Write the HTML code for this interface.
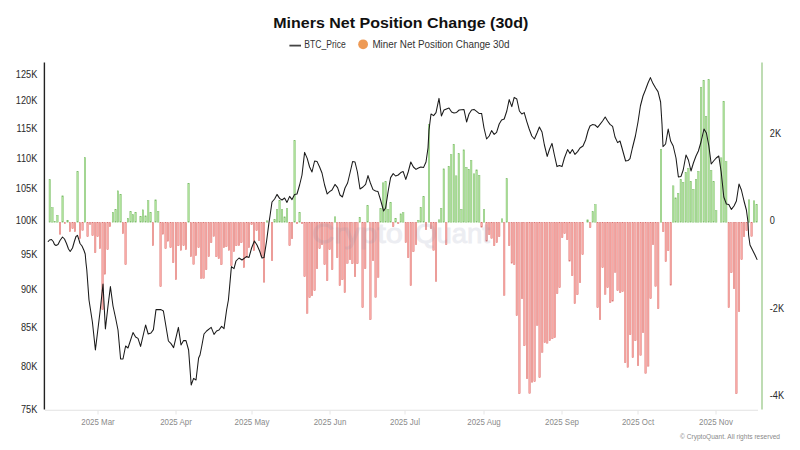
<!DOCTYPE html>
<html><head><meta charset="utf-8"><title>Miners Net Position Change (30d)</title>
<style>
html,body{margin:0;padding:0;background:#fff;}
body{width:800px;height:450px;overflow:hidden;font-family:"Liberation Sans",sans-serif;}
svg{display:block;}
text{font-family:"Liberation Sans",sans-serif;}
.ttl{font-size:14.7px;font-weight:bold;fill:#111;}
.lg{font-size:10px;fill:#333;}
.ax{font-size:10px;fill:#2a2a2a;}
.mo{font-size:8.4px;fill:#8a8a8a;}
.cp{font-size:7.5px;fill:#8a8a8a;}
.n{fill:#fbaca8;stroke:#d97471;stroke-width:0.45;}
.p{fill:#b1e49c;stroke:#7fbd6e;stroke-width:0.45;}
.wm{font-size:27px;fill:#7d86a6;stroke:#7d86a6;stroke-width:0.9;opacity:0.14;}
</style></head><body>
<svg width="800" height="450" viewBox="0 0 800 450">
<rect width="800" height="450" fill="#fff"/>
<text class="ttl" x="400.8" y="27.9" text-anchor="middle" textLength="255" lengthAdjust="spacingAndGlyphs">Miners Net Position Change (30d)</text>
<line x1="289.4" y1="45.6" x2="301" y2="45.6" stroke="#444" stroke-width="1.8"/>
<text class="lg" x="304.3" y="48.4" textLength="41.4" lengthAdjust="spacingAndGlyphs">BTC_Price</text>
<circle cx="363.1" cy="44.3" r="4.9" fill="#ee9a55"/>
<text class="lg" x="372.4" y="48.4" textLength="137.2" lengthAdjust="spacingAndGlyphs">Miner Net Position Change 30d</text>
<line x1="45" y1="410.2" x2="758" y2="410.2" stroke="#e2e2e2" stroke-width="1.1"/>
<g shape-rendering="auto">
<rect class="n" x="59.23" y="222.62" width="1.55" height="11.55"/><rect class="n" x="64.22" y="222.62" width="1.55" height="1.15"/><rect class="n" x="69.22" y="222.62" width="1.55" height="9.15"/><rect class="n" x="71.82" y="222.62" width="1.55" height="6.15"/><rect class="n" x="74.22" y="222.62" width="1.55" height="9.15"/><rect class="n" x="79.22" y="222.62" width="1.55" height="16.15"/><rect class="n" x="81.82" y="222.62" width="1.55" height="7.75"/><rect class="n" x="86.82" y="222.62" width="1.55" height="14.15"/><rect class="n" x="89.32" y="222.62" width="1.55" height="1.75"/><rect class="n" x="91.82" y="222.62" width="1.55" height="13.15"/><rect class="n" x="94.42" y="222.62" width="1.55" height="30.15"/><rect class="n" x="96.82" y="222.62" width="1.55" height="14.15"/><rect class="n" x="99.22" y="222.62" width="1.55" height="26.15"/><rect class="n" x="101.82" y="222.62" width="1.55" height="87.15"/><rect class="n" x="104.22" y="222.62" width="1.55" height="51.55"/><rect class="n" x="106.82" y="222.62" width="1.55" height="27.15"/><rect class="n" x="109.22" y="222.62" width="1.55" height="4.15"/><rect class="n" x="122.22" y="222.62" width="1.55" height="11.15"/><rect class="n" x="124.82" y="222.62" width="1.55" height="42.15"/><rect class="n" x="152.22" y="222.62" width="1.55" height="23.15"/><rect class="n" x="159.82" y="222.62" width="1.55" height="64.15"/><rect class="n" x="162.22" y="222.62" width="1.55" height="11.55"/><rect class="n" x="164.82" y="222.62" width="1.55" height="26.15"/><rect class="n" x="167.22" y="222.62" width="1.55" height="18.55"/><rect class="n" x="169.82" y="222.62" width="1.55" height="25.15"/><rect class="n" x="172.42" y="222.62" width="1.55" height="40.15"/><rect class="n" x="175.22" y="222.62" width="1.55" height="57.15"/><rect class="n" x="177.62" y="222.62" width="1.55" height="23.15"/><rect class="n" x="180.22" y="222.62" width="1.55" height="27.75"/><rect class="n" x="182.82" y="222.62" width="1.55" height="23.15"/><rect class="n" x="185.22" y="222.62" width="1.55" height="27.15"/><rect class="n" x="190.22" y="222.62" width="1.55" height="34.15"/><rect class="n" x="192.82" y="222.62" width="1.55" height="41.75"/><rect class="n" x="195.22" y="222.62" width="1.55" height="33.15"/><rect class="n" x="197.82" y="222.62" width="1.55" height="25.15"/><rect class="n" x="200.42" y="222.62" width="1.55" height="55.75"/><rect class="n" x="202.82" y="222.62" width="1.55" height="55.75"/><rect class="n" x="205.42" y="222.62" width="1.55" height="47.15"/><rect class="n" x="208.03" y="222.62" width="1.55" height="34.15"/><rect class="n" x="210.42" y="222.62" width="1.55" height="20.15"/><rect class="n" x="213.03" y="222.62" width="1.55" height="13.75"/><rect class="n" x="215.62" y="222.62" width="1.55" height="34.15"/><rect class="n" x="218.03" y="222.62" width="1.55" height="36.15"/><rect class="n" x="220.62" y="222.62" width="1.55" height="42.15"/><rect class="n" x="223.22" y="222.62" width="1.55" height="25.15"/><rect class="n" x="225.62" y="222.62" width="1.55" height="24.15"/><rect class="n" x="228.22" y="222.62" width="1.55" height="27.75"/><rect class="n" x="230.62" y="222.62" width="1.55" height="43.15"/><rect class="n" x="233.22" y="222.62" width="1.55" height="29.15"/><rect class="n" x="235.62" y="222.62" width="1.55" height="23.15"/><rect class="n" x="238.22" y="222.62" width="1.55" height="23.15"/><rect class="n" x="240.62" y="222.62" width="1.55" height="20.15"/><rect class="n" x="243.22" y="222.62" width="1.55" height="45.15"/><rect class="n" x="245.82" y="222.62" width="1.55" height="35.15"/><rect class="n" x="248.22" y="222.62" width="1.55" height="25.15"/><rect class="n" x="250.82" y="222.62" width="1.55" height="2.15"/><rect class="n" x="253.22" y="222.62" width="1.55" height="28.15"/><rect class="n" x="255.83" y="222.62" width="1.55" height="8.15"/><rect class="n" x="258.23" y="222.62" width="1.55" height="18.15"/><rect class="n" x="260.83" y="222.62" width="1.55" height="34.15"/><rect class="n" x="263.23" y="222.62" width="1.55" height="59.55"/><rect class="n" x="271.23" y="222.62" width="1.55" height="38.15"/><rect class="n" x="288.83" y="222.62" width="1.55" height="23.15"/><rect class="n" x="291.23" y="222.62" width="1.55" height="16.15"/><rect class="n" x="296.23" y="222.62" width="1.55" height="1.15"/><rect class="n" x="301.23" y="222.62" width="1.55" height="1.15"/><rect class="n" x="303.83" y="222.62" width="1.55" height="54.15"/><rect class="n" x="306.43" y="222.62" width="1.55" height="90.75"/><rect class="n" x="308.83" y="222.62" width="1.55" height="75.15"/><rect class="n" x="311.23" y="222.62" width="1.55" height="73.15"/><rect class="n" x="313.83" y="222.62" width="1.55" height="68.15"/><rect class="n" x="316.23" y="222.62" width="1.55" height="46.15"/><rect class="n" x="318.83" y="222.62" width="1.55" height="26.15"/><rect class="n" x="321.23" y="222.62" width="1.55" height="22.15"/><rect class="n" x="323.83" y="222.62" width="1.55" height="42.15"/><rect class="n" x="326.43" y="222.62" width="1.55" height="58.15"/><rect class="n" x="328.83" y="222.62" width="1.55" height="27.15"/><rect class="n" x="331.43" y="222.62" width="1.55" height="47.15"/><rect class="n" x="336.43" y="222.62" width="1.55" height="35.15"/><rect class="n" x="339.03" y="222.62" width="1.55" height="63.15"/><rect class="n" x="341.62" y="222.62" width="1.55" height="57.15"/><rect class="n" x="344.03" y="222.62" width="1.55" height="70.15"/><rect class="n" x="346.62" y="222.62" width="1.55" height="40.75"/><rect class="n" x="349.23" y="222.62" width="1.55" height="37.15"/><rect class="n" x="351.62" y="222.62" width="1.55" height="41.15"/><rect class="n" x="354.23" y="222.62" width="1.55" height="54.15"/><rect class="n" x="356.62" y="222.62" width="1.55" height="41.15"/><rect class="n" x="361.83" y="222.62" width="1.55" height="85.15"/><rect class="n" x="364.43" y="222.62" width="1.55" height="46.15"/><rect class="n" x="369.62" y="222.62" width="1.55" height="97.15"/><rect class="n" x="372.23" y="222.62" width="1.55" height="38.15"/><rect class="n" x="374.83" y="222.62" width="1.55" height="74.75"/><rect class="n" x="377.43" y="222.62" width="1.55" height="54.75"/><rect class="n" x="392.43" y="222.62" width="1.55" height="4.15"/><rect class="n" x="397.43" y="222.62" width="1.55" height="1.15"/><rect class="n" x="405.03" y="222.62" width="1.55" height="20.15"/><rect class="n" x="407.43" y="222.62" width="1.55" height="35.15"/><rect class="n" x="410.03" y="222.62" width="1.55" height="63.15"/><rect class="n" x="412.62" y="222.62" width="1.55" height="29.15"/><rect class="n" x="415.23" y="222.62" width="1.55" height="22.15"/><rect class="n" x="425.23" y="222.62" width="1.55" height="7.15"/><rect class="n" x="430.23" y="222.62" width="1.55" height="6.15"/><rect class="n" x="432.83" y="222.62" width="1.55" height="27.75"/><rect class="n" x="435.23" y="222.62" width="1.55" height="58.75"/><rect class="n" x="445.43" y="222.62" width="1.55" height="22.15"/><rect class="n" x="480.83" y="222.62" width="1.55" height="4.55"/><rect class="n" x="485.83" y="222.62" width="1.55" height="18.55"/><rect class="n" x="488.43" y="222.62" width="1.55" height="12.15"/><rect class="n" x="490.83" y="222.62" width="1.55" height="15.75"/><rect class="n" x="493.43" y="222.62" width="1.55" height="23.15"/><rect class="n" x="496.03" y="222.62" width="1.55" height="20.15"/><rect class="n" x="498.43" y="222.62" width="1.55" height="14.15"/><rect class="n" x="503.43" y="222.62" width="1.55" height="72.75"/><rect class="n" x="508.43" y="222.62" width="1.55" height="23.15"/><rect class="n" x="511.03" y="222.62" width="1.55" height="40.55"/><rect class="n" x="513.43" y="222.62" width="1.55" height="42.15"/><rect class="n" x="516.02" y="222.62" width="1.55" height="93.15"/><rect class="n" x="518.62" y="222.62" width="1.55" height="171.15"/><rect class="n" x="521.23" y="222.62" width="1.55" height="76.15"/><rect class="n" x="523.62" y="222.62" width="1.55" height="123.15"/><rect class="n" x="526.23" y="222.62" width="1.55" height="156.15"/><rect class="n" x="528.83" y="222.62" width="1.55" height="170.75"/><rect class="n" x="531.23" y="222.62" width="1.55" height="159.55"/><rect class="n" x="533.83" y="222.62" width="1.55" height="159.15"/><rect class="n" x="536.43" y="222.62" width="1.55" height="102.75"/><rect class="n" x="538.83" y="222.62" width="1.55" height="155.15"/><rect class="n" x="541.43" y="222.62" width="1.55" height="129.75"/><rect class="n" x="544.02" y="222.62" width="1.55" height="120.15"/><rect class="n" x="546.43" y="222.62" width="1.55" height="120.55"/><rect class="n" x="549.02" y="222.62" width="1.55" height="118.15"/><rect class="n" x="551.62" y="222.62" width="1.55" height="116.15"/><rect class="n" x="554.02" y="222.62" width="1.55" height="115.15"/><rect class="n" x="556.43" y="222.62" width="1.55" height="71.15"/><rect class="n" x="558.83" y="222.62" width="1.55" height="65.15"/><rect class="n" x="561.43" y="222.62" width="1.55" height="15.15"/><rect class="n" x="563.83" y="222.62" width="1.55" height="11.15"/><rect class="n" x="566.43" y="222.62" width="1.55" height="17.15"/><rect class="n" x="568.83" y="222.62" width="1.55" height="38.55"/><rect class="n" x="571.43" y="222.62" width="1.55" height="53.15"/><rect class="n" x="574.02" y="222.62" width="1.55" height="81.15"/><rect class="n" x="576.62" y="222.62" width="1.55" height="72.15"/><rect class="n" x="579.23" y="222.62" width="1.55" height="60.15"/><rect class="n" x="581.83" y="222.62" width="1.55" height="32.15"/><rect class="n" x="589.43" y="222.62" width="1.55" height="5.15"/><rect class="n" x="596.83" y="222.62" width="1.55" height="85.15"/><rect class="n" x="599.23" y="222.62" width="1.55" height="97.15"/><rect class="n" x="601.83" y="222.62" width="1.55" height="45.15"/><rect class="n" x="604.43" y="222.62" width="1.55" height="71.75"/><rect class="n" x="606.83" y="222.62" width="1.55" height="65.15"/><rect class="n" x="609.43" y="222.62" width="1.55" height="80.15"/><rect class="n" x="611.83" y="222.62" width="1.55" height="78.55"/><rect class="n" x="614.43" y="222.62" width="1.55" height="49.75"/><rect class="n" x="616.83" y="222.62" width="1.55" height="68.15"/><rect class="n" x="619.43" y="222.62" width="1.55" height="70.15"/><rect class="n" x="621.83" y="222.62" width="1.55" height="69.15"/><rect class="n" x="624.43" y="222.62" width="1.55" height="140.15"/><rect class="n" x="627.02" y="222.62" width="1.55" height="144.75"/><rect class="n" x="629.43" y="222.62" width="1.55" height="112.15"/><rect class="n" x="632.02" y="222.62" width="1.55" height="135.15"/><rect class="n" x="634.62" y="222.62" width="1.55" height="118.15"/><rect class="n" x="637.23" y="222.62" width="1.55" height="143.15"/><rect class="n" x="639.83" y="222.62" width="1.55" height="132.75"/><rect class="n" x="642.23" y="222.62" width="1.55" height="110.15"/><rect class="n" x="644.83" y="222.62" width="1.55" height="150.75"/><rect class="n" x="647.43" y="222.62" width="1.55" height="143.55"/><rect class="n" x="649.83" y="222.62" width="1.55" height="76.15"/><rect class="n" x="652.23" y="222.62" width="1.55" height="22.15"/><rect class="n" x="654.83" y="222.62" width="1.55" height="63.75"/><rect class="n" x="657.43" y="222.62" width="1.55" height="86.15"/><rect class="n" x="662.43" y="222.62" width="1.55" height="9.15"/><rect class="n" x="665.02" y="222.62" width="1.55" height="39.15"/><rect class="n" x="667.43" y="222.62" width="1.55" height="28.15"/><rect class="n" x="670.02" y="222.62" width="1.55" height="62.55"/><rect class="n" x="728.02" y="222.62" width="1.55" height="85.15"/><rect class="n" x="730.62" y="222.62" width="1.55" height="50.15"/><rect class="n" x="733.23" y="222.62" width="1.55" height="66.15"/><rect class="n" x="735.62" y="222.62" width="1.55" height="171.15"/><rect class="n" x="738.23" y="222.62" width="1.55" height="89.15"/><rect class="n" x="740.83" y="222.62" width="1.55" height="37.15"/><rect class="n" x="743.23" y="222.62" width="1.55" height="14.15"/><rect class="n" x="745.83" y="222.62" width="1.55" height="8.15"/><rect class="n" x="750.83" y="222.62" width="1.55" height="13.75"/><rect class="p" x="49.02" y="179.62" width="1.55" height="42.55"/><rect class="p" x="51.62" y="207.62" width="1.55" height="14.55"/><rect class="p" x="54.02" y="221.22" width="1.55" height="0.95"/><rect class="p" x="56.62" y="215.22" width="1.55" height="6.95"/><rect class="p" x="61.83" y="195.82" width="1.55" height="26.35"/><rect class="p" x="66.82" y="220.22" width="1.55" height="1.95"/><rect class="p" x="76.82" y="171.62" width="1.55" height="50.55"/><rect class="p" x="84.22" y="157.62" width="1.55" height="64.55"/><rect class="p" x="112.22" y="212.22" width="1.55" height="9.95"/><rect class="p" x="114.82" y="209.62" width="1.55" height="12.55"/><rect class="p" x="117.22" y="190.82" width="1.55" height="31.35"/><rect class="p" x="119.82" y="194.22" width="1.55" height="27.95"/><rect class="p" x="127.22" y="218.22" width="1.55" height="3.95"/><rect class="p" x="129.82" y="211.62" width="1.55" height="10.55"/><rect class="p" x="132.22" y="214.62" width="1.55" height="7.55"/><rect class="p" x="134.82" y="212.22" width="1.55" height="9.95"/><rect class="p" x="139.82" y="216.22" width="1.55" height="5.95"/><rect class="p" x="142.22" y="209.82" width="1.55" height="12.35"/><rect class="p" x="144.82" y="215.82" width="1.55" height="6.35"/><rect class="p" x="147.42" y="200.62" width="1.55" height="21.55"/><rect class="p" x="149.82" y="212.22" width="1.55" height="9.95"/><rect class="p" x="154.82" y="199.82" width="1.55" height="22.35"/><rect class="p" x="157.42" y="211.22" width="1.55" height="10.95"/><rect class="p" x="187.82" y="183.22" width="1.55" height="38.95"/><rect class="p" x="266.23" y="220.82" width="1.55" height="1.35"/><rect class="p" x="273.83" y="219.62" width="1.55" height="2.55"/><rect class="p" x="276.23" y="209.22" width="1.55" height="12.95"/><rect class="p" x="278.83" y="200.22" width="1.55" height="21.95"/><rect class="p" x="281.23" y="209.62" width="1.55" height="12.55"/><rect class="p" x="283.83" y="216.82" width="1.55" height="5.35"/><rect class="p" x="286.23" y="208.62" width="1.55" height="13.55"/><rect class="p" x="293.83" y="140.62" width="1.55" height="81.55"/><rect class="p" x="298.83" y="212.22" width="1.55" height="9.95"/><rect class="p" x="334.23" y="216.82" width="1.55" height="5.35"/><rect class="p" x="359.03" y="217.22" width="1.55" height="4.95"/><rect class="p" x="366.83" y="205.62" width="1.55" height="16.55"/><rect class="p" x="379.83" y="208.22" width="1.55" height="13.95"/><rect class="p" x="382.23" y="182.82" width="1.55" height="39.35"/><rect class="p" x="384.83" y="181.62" width="1.55" height="40.55"/><rect class="p" x="387.43" y="209.22" width="1.55" height="12.95"/><rect class="p" x="389.83" y="202.22" width="1.55" height="19.95"/><rect class="p" x="394.83" y="218.22" width="1.55" height="3.95"/><rect class="p" x="400.03" y="213.82" width="1.55" height="8.35"/><rect class="p" x="402.43" y="212.62" width="1.55" height="9.55"/><rect class="p" x="417.62" y="220.22" width="1.55" height="1.95"/><rect class="p" x="420.03" y="207.22" width="1.55" height="14.95"/><rect class="p" x="422.83" y="196.62" width="1.55" height="25.55"/><rect class="p" x="428.23" y="124.22" width="1.55" height="97.95"/><rect class="p" x="438.23" y="219.82" width="1.55" height="2.35"/><rect class="p" x="440.43" y="208.22" width="1.55" height="13.95"/><rect class="p" x="443.03" y="168.82" width="1.55" height="53.35"/><rect class="p" x="448.03" y="166.22" width="1.55" height="55.95"/><rect class="p" x="450.43" y="154.62" width="1.55" height="67.55"/><rect class="p" x="453.03" y="144.22" width="1.55" height="77.95"/><rect class="p" x="455.43" y="175.82" width="1.55" height="46.35"/><rect class="p" x="458.03" y="153.62" width="1.55" height="68.55"/><rect class="p" x="460.62" y="209.22" width="1.55" height="12.95"/><rect class="p" x="463.03" y="149.82" width="1.55" height="72.35"/><rect class="p" x="465.62" y="167.22" width="1.55" height="54.95"/><rect class="p" x="468.03" y="169.22" width="1.55" height="52.95"/><rect class="p" x="470.43" y="160.22" width="1.55" height="61.95"/><rect class="p" x="473.23" y="173.82" width="1.55" height="48.35"/><rect class="p" x="475.83" y="169.82" width="1.55" height="52.35"/><rect class="p" x="478.43" y="175.22" width="1.55" height="46.95"/><rect class="p" x="483.23" y="209.62" width="1.55" height="12.55"/><rect class="p" x="501.23" y="218.82" width="1.55" height="3.35"/><rect class="p" x="506.03" y="178.62" width="1.55" height="43.55"/><rect class="p" x="586.83" y="219.82" width="1.55" height="2.35"/><rect class="p" x="592.02" y="211.62" width="1.55" height="10.55"/><rect class="p" x="594.62" y="204.62" width="1.55" height="17.55"/><rect class="p" x="660.23" y="149.22" width="1.55" height="72.95"/><rect class="p" x="672.43" y="185.82" width="1.55" height="36.35"/><rect class="p" x="674.83" y="197.82" width="1.55" height="24.35"/><rect class="p" x="677.43" y="193.22" width="1.55" height="28.95"/><rect class="p" x="680.02" y="179.22" width="1.55" height="42.95"/><rect class="p" x="682.43" y="182.22" width="1.55" height="39.95"/><rect class="p" x="685.02" y="172.22" width="1.55" height="49.95"/><rect class="p" x="687.62" y="168.22" width="1.55" height="53.95"/><rect class="p" x="690.02" y="181.22" width="1.55" height="40.95"/><rect class="p" x="692.62" y="189.22" width="1.55" height="32.95"/><rect class="p" x="695.23" y="179.22" width="1.55" height="42.95"/><rect class="p" x="697.62" y="171.22" width="1.55" height="50.95"/><rect class="p" x="700.23" y="87.22" width="1.55" height="134.95"/><rect class="p" x="702.93" y="80.22" width="1.55" height="141.95"/><rect class="p" x="705.33" y="116.22" width="1.55" height="105.95"/><rect class="p" x="707.93" y="79.62" width="1.55" height="142.55"/><rect class="p" x="710.43" y="170.22" width="1.55" height="51.95"/><rect class="p" x="712.83" y="181.62" width="1.55" height="40.55"/><rect class="p" x="715.43" y="210.62" width="1.55" height="11.55"/><rect class="p" x="720.43" y="157.82" width="1.55" height="64.35"/><rect class="p" x="722.93" y="101.22" width="1.55" height="120.95"/><rect class="p" x="725.43" y="161.62" width="1.55" height="60.55"/><rect class="p" x="748.23" y="199.82" width="1.55" height="22.35"/><rect class="p" x="753.23" y="200.82" width="1.55" height="21.35"/><rect class="p" x="755.83" y="204.22" width="1.55" height="17.95"/>
</g>
<text class="wm" x="312" y="243" textLength="91" lengthAdjust="spacingAndGlyphs">Crypto</text><text class="wm" x="415" y="243" textLength="75" lengthAdjust="spacingAndGlyphs">Quant</text>
<polyline points="48.2,241.5 49.5,240 51.5,239.5 53.2,241.5 54.5,244.5 56,245.5 58,244.5 60,240.5 62.5,237 64.5,239 66.5,243.5 68.5,249 70.2,251.5 72.5,248 74.5,241 76,236.5 77.5,235.3 79,240 80,243.5 82,246 84,250.5 85.2,254 86,263 86.8,270 89,300 92.4,322 95.4,350 100,312 103,284 105.4,329 108,306 110.4,286.6 113,306 115.6,318 118,330 120.6,359 123,359 125.6,346 128,348 133,332.6 135.6,337 138,338.4 140.6,346.4 145.6,325 148.2,334 151,333 153.4,329.6 156,309.6 161,309.6 163.4,311 168.4,341 171,343.6 173.6,347.6 178.4,327.4 181,345 183.6,340.6 186,340.6 188.6,350 191.2,385 193.6,378.4 196,380 198.6,358 200,355 201.6,347 204,334 206.6,331 211.2,327.4 214,334.4 216.6,331 219,330 221.6,326.4 224,328.6 226.6,310 228.4,300 229.6,287 231.4,266.6 234,268.6 236,261 239,258 242,260 246.4,256.6 249,257.4 251.6,248 254.4,241 257,245 259.6,251 262,258 264,257.6 266.6,241 269,222.4 270,216 272,202 274.6,199 277,194.4 279.6,198.4 282,200 284.6,198 287,202.4 289.6,196.4 292,199.6 294.6,194.4 297,194 299.6,185 302,175 304.6,152.4 307.2,158.4 309.6,167 312,172 314.6,161 317,161.4 319.6,167 322,173 324.6,185 327.2,194 329.6,191.6 332,190 335,184.4 337.6,187.6 340,195 342.4,197 345,188 347.6,183 350,173 352.6,161.6 355,162 357.4,172 360,189 363,187 365.6,184.4 368,175.6 370.4,183 373,189.6 375.6,191 378,191.6 380.6,200 383.6,211 385.6,208 388.2,191 390.6,177.6 393.2,173.6 395.6,176 398.2,175 400.8,172.6 403.2,171.6 405.8,179.4 408.2,172 410.8,162 413.4,167 416,169.4 418.4,168 420.8,167 423.6,167.4 426,162 428,148 429,130 431,114 433.6,115.6 436,112.6 439,98.4 441.4,116 444,110 449,108 451.6,112 454,113 456.6,112.4 459.2,110 464,109.6 466.6,122 469,114 471.6,110 474,109.4 476.6,111.4 479,113.4 481.6,113.4 484,128 486.6,139 489.2,136 491.6,130.6 494.2,134.4 496.6,132.4 499.2,124 501.6,120 504.2,119 506.8,111 509.2,99.6 511.8,106.6 514.2,97.4 516.8,99 519.4,111 521.8,114 524.2,112.6 526.8,121.6 529.2,129 531.8,136 534.4,139 537,133 539.4,127 542,132 544.4,145 547.2,156.4 549.6,149 552,143.4 554.4,155 557,166.6 559.4,165.6 562,166.6 564.4,158 567.6,149.6 570,153.6 572.4,149.6 575,154.4 577.6,151.6 580,148 583,146 585.6,140 588,131 590,126 592.4,124.6 595,125 597.6,127.4 600,124.4 602.6,121 605.2,117 607.6,121 610,124.4 612.6,126.4 615,137 617.6,142.6 620,141 622,148 625.6,161 628,160.6 630,158.6 632.4,148 634.4,140 635.4,136 638,122 640.4,106 643,96 645.4,90 648,83 650.4,77.6 653,83.6 655.6,88 658,91.6 660.6,102 662,124 663,146.6 665.6,144 668.2,129 670.6,141 673.2,146 676,158 678.4,177 681,176.4 683.2,170 686,155 688.4,160 691,171 693.4,163 696,156 698.4,151 701,142 704,129 706.4,133 708.8,145.5 711.2,164 713.6,161 716.2,158 718.8,156 721.2,172 723.8,197 726.4,204 728.8,204.4 731.4,209.4 734,206 736.4,201 739,184 741.4,190 744,201 746.4,210 748,222 748.6,235 750,245 753,251 755,255 757,259.4" fill="none" stroke="#1a1a1a" stroke-width="1.05" stroke-linejoin="round" stroke-linecap="round"/>
<line x1="44.4" y1="62.6" x2="44.4" y2="409.4" stroke="#222" stroke-width="1.4"/>
<line x1="762" y1="62.6" x2="762" y2="409.4" stroke="#a8d09a" stroke-width="1.5"/>
<text class="ax" transform="translate(37.3,412.7) scale(0.92,1)" text-anchor="end">75K</text><text class="ax" transform="translate(37.3,370.38) scale(0.92,1)" text-anchor="end">80K</text><text class="ax" transform="translate(37.3,330.62) scale(0.92,1)" text-anchor="end">85K</text><text class="ax" transform="translate(37.3,293.13) scale(0.92,1)" text-anchor="end">90K</text><text class="ax" transform="translate(37.3,257.68) scale(0.92,1)" text-anchor="end">95K</text><text class="ax" transform="translate(37.3,224.04) scale(0.92,1)" text-anchor="end">100K</text><text class="ax" transform="translate(37.3,192.04) scale(0.92,1)" text-anchor="end">105K</text><text class="ax" transform="translate(37.3,161.53) scale(0.92,1)" text-anchor="end">110K</text><text class="ax" transform="translate(37.3,132.38) scale(0.92,1)" text-anchor="end">115K</text><text class="ax" transform="translate(37.3,104.47) scale(0.92,1)" text-anchor="end">120K</text><text class="ax" transform="translate(37.3,77.7) scale(0.92,1)" text-anchor="end">125K</text>
<text class="ax" transform="translate(769.8,137) scale(0.92,1)">2K</text><text class="ax" transform="translate(769.8,224.2) scale(0.92,1)">0</text><text class="ax" transform="translate(769.8,312) scale(0.92,1)">-2K</text><text class="ax" transform="translate(769.8,399) scale(0.92,1)">-4K</text>
<line x1="98" y1="410.2" x2="98" y2="414.5" stroke="#e6e6e6" stroke-width="1"/><text class="mo" transform="translate(98,425.3) scale(0.945,1)" text-anchor="middle">2025 Mar</text><line x1="176" y1="410.2" x2="176" y2="414.5" stroke="#e6e6e6" stroke-width="1"/><text class="mo" transform="translate(176,425.3) scale(0.945,1)" text-anchor="middle">2025 Apr</text><line x1="252" y1="410.2" x2="252" y2="414.5" stroke="#e6e6e6" stroke-width="1"/><text class="mo" transform="translate(252,425.3) scale(0.945,1)" text-anchor="middle">2025 May</text><line x1="330" y1="410.2" x2="330" y2="414.5" stroke="#e6e6e6" stroke-width="1"/><text class="mo" transform="translate(330,425.3) scale(0.945,1)" text-anchor="middle">2025 Jun</text><line x1="405" y1="410.2" x2="405" y2="414.5" stroke="#e6e6e6" stroke-width="1"/><text class="mo" transform="translate(405,425.3) scale(0.945,1)" text-anchor="middle">2025 Jul</text><line x1="484" y1="410.2" x2="484" y2="414.5" stroke="#e6e6e6" stroke-width="1"/><text class="mo" transform="translate(484,425.3) scale(0.945,1)" text-anchor="middle">2025 Aug</text><line x1="562" y1="410.2" x2="562" y2="414.5" stroke="#e6e6e6" stroke-width="1"/><text class="mo" transform="translate(562,425.3) scale(0.945,1)" text-anchor="middle">2025 Sep</text><line x1="638" y1="410.2" x2="638" y2="414.5" stroke="#e6e6e6" stroke-width="1"/><text class="mo" transform="translate(638,425.3) scale(0.945,1)" text-anchor="middle">2025 Oct</text><line x1="716" y1="410.2" x2="716" y2="414.5" stroke="#e6e6e6" stroke-width="1"/><text class="mo" transform="translate(716,425.3) scale(0.945,1)" text-anchor="middle">2025 Nov</text>
<text class="cp" x="680" y="438.8" textLength="100" lengthAdjust="spacingAndGlyphs">© CryptoQuant. All rights reserved</text>
</svg>
</body></html>
